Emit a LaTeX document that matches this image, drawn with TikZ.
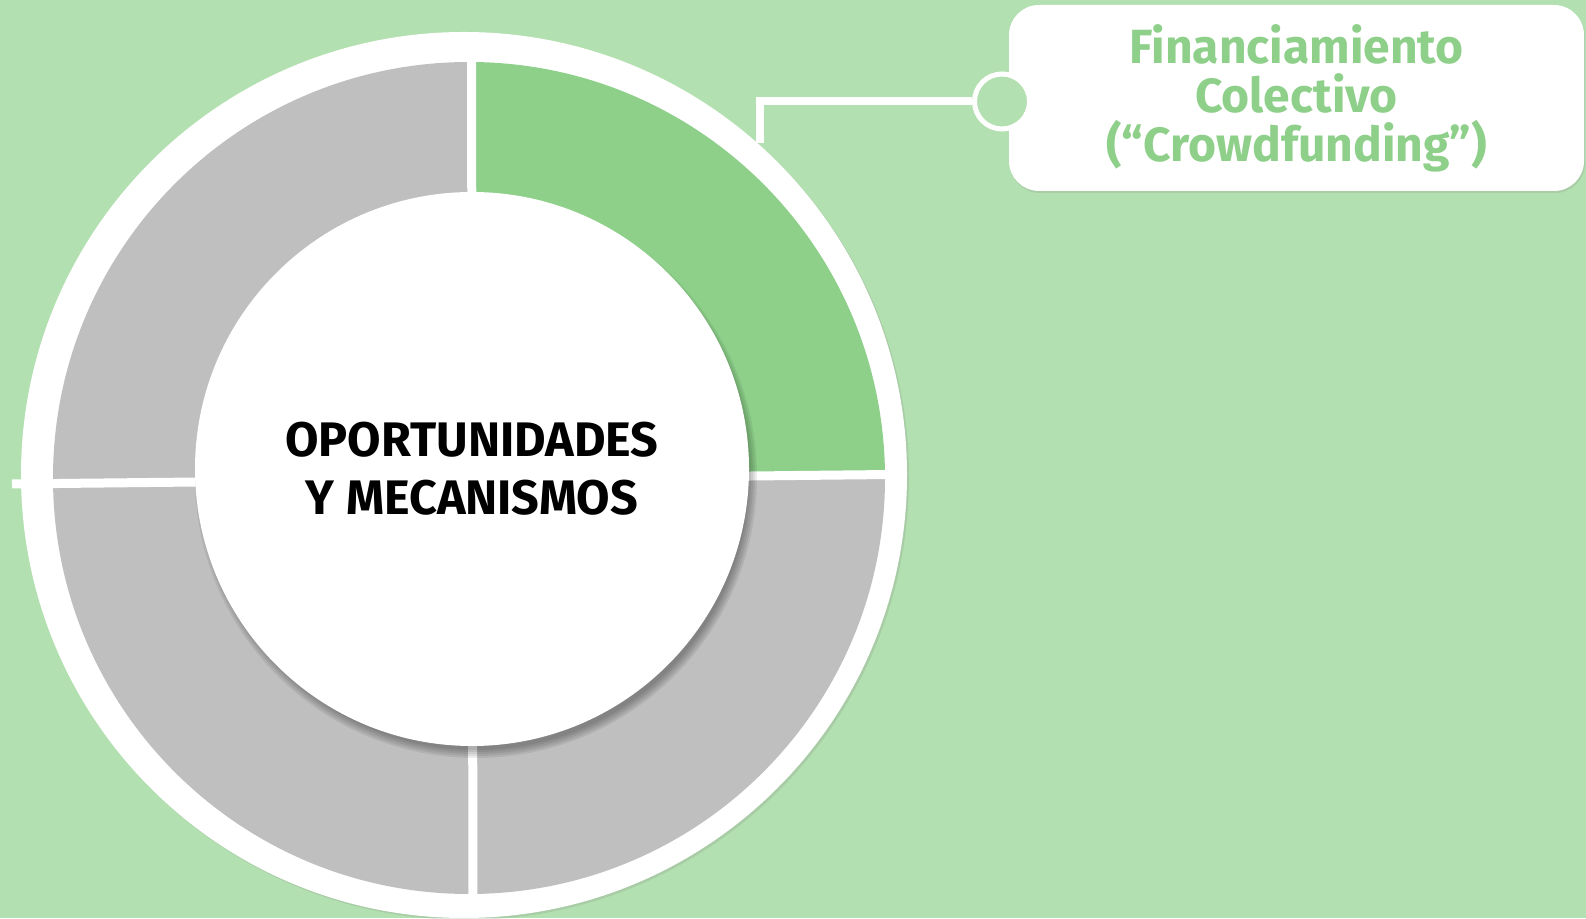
\documentclass[tikz,border=0pt]{standalone}
\usepackage{fontspec}
\setmainfont{Fira Sans}
\usetikzlibrary{shadows,calc}
\definecolor{bg}{RGB}{179,224,176}
\definecolor{segG}{RGB}{142,208,138}
\definecolor{segY}{RGB}{191,191,191}
\tikzset{
  gapline/.style={draw=white, line width=9pt},
  conn/.style={draw=white, line width=8pt, line join=miter},
  labelbox/.style={rectangle, rounded corners=30pt, fill=white, minimum width=575pt, minimum height=186pt, align=center, text=segG, font=\fontsize{48}{49}\selectfont\bfseries, drop shadow={shadow xshift=1pt, shadow yshift=-2pt, opacity=0.2}},
  dot/.style={circle, fill=bg, draw=white, line width=5pt, minimum size=55pt, inner sep=0pt},
  hub/.style={circle, fill=white, minimum size=554pt, inner sep=0pt, align=center, font=\fontsize{48.5}{58}\selectfont\bfseries},
  rim/.style={circle, fill=white, minimum size=886pt, inner sep=0pt, drop shadow={shadow xshift=2pt, shadow yshift=-2pt, opacity=0.2}},
  softshadow/.style={fill=black, opacity=0.07}
}
\begin{document}
\begin{tikzpicture}[x=1pt,y=1pt]
\useasboundingbox (0,0) rectangle (1586,918);
\fill[bg] (0,0) rectangle (1586,918);
% outer white disc
\node[rim] (outer) at (464,443) {};
% ring sectors
\coordinate (sc) at (469,440);
\fill[segG] (sc) -- ++(0:416) arc[start angle=0, end angle=90, radius=416] -- cycle;
\fill[segY] (sc) -- ++(90:416) arc[start angle=90, end angle=180, radius=416] -- cycle;
\fill[segY] (sc) -- ++(180:416) arc[start angle=180, end angle=270, radius=416] -- cycle;
\fill[segY] (sc) -- ++(270:416) arc[start angle=270, end angle=360, radius=416] -- cycle;
% white gaps
\draw[gapline] (12,434) -- (890,443.5);
\draw[gapline] (471.5,870) -- (473,5);
% soft shadow of the hub
\foreach \r in {281,279,277,275,273} {
  \fill[softshadow] (476,441) circle[radius=\r];
}
% hub
\node[hub] (hub) at (472,449) {OPORTUNIDADES\\Y MECANISMOS};
% label box and connector
\node[labelbox] (box) at (1296.5,820) {Financiamiento\\Colectivo\\(“Crowdfunding”)};
\node[dot] (dot) at (1002,816.5) {};
\coordinate (cstart) at (760,775);
\draw[conn] (dot.west) -| (cstart);
\end{tikzpicture}
\end{document}
